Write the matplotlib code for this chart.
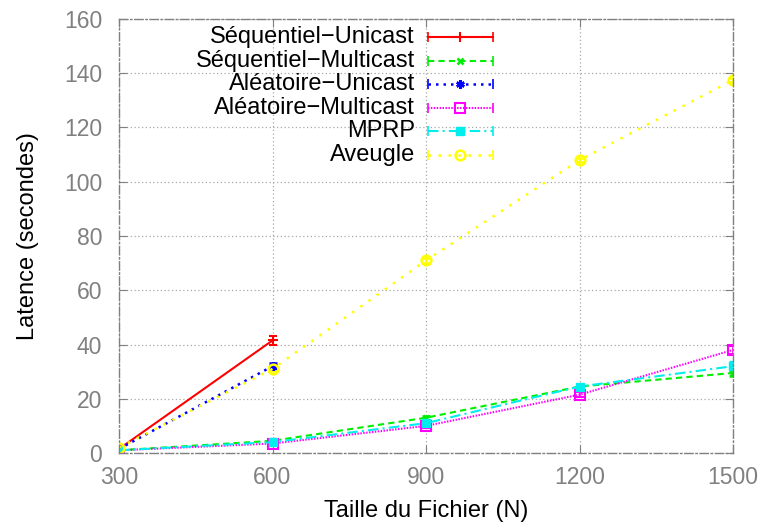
import matplotlib
matplotlib.use("Agg")
import matplotlib.pyplot as plt

plt.rcParams['font.family'] = ['Liberation Sans', 'DejaVu Sans']

# file sizes (N)
sizes = [300, 600, 900, 1200, 1500]

seq_uni = [1.5, 41.5]
seq_uni_err = [0.5, 1.5]
seq_multi = [1.0, 4.5, 13.0, 24.5, 29.5]
seq_multi_err = [0.3, 0.5, 0.8, 0.8, 1.0]
alea_uni = [1.5, 32.0]
alea_uni_err = [0.5, 1.0]
alea_multi = [1.0, 3.5, 10.0, 21.5, 38.0]
alea_multi_err = [0.3, 0.5, 0.8, 1.0, 1.5]
mprp = [1.0, 4.0, 11.0, 24.5, 32.0]
mprp_err = [0.3, 0.5, 0.8, 1.0, 2.0]
aveugle = [2.0, 31.0, 71.0, 108.0, 137.5]
aveugle_err = [0.5, 0.8, 0.8, 0.8, 0.8]

labels = ["Séquentiel\u2212Unicast", "Séquentiel\u2212Multicast", "Aléatoire\u2212Unicast",
          "Aléatoire\u2212Multicast", "MPRP", "Aveugle"]

fig = plt.figure(figsize=(7.58, 5.24), dpi=100)
ax = fig.add_axes([119/758, 1-453/524, 614/758, 434/524])

lw = 1.5
styles = [
    dict(color='#ff0000', ls='-', lw=lw, marker='+', ms=7, mew=1.5),
    dict(color='#00ee00', ls=(0, (3, 2)), lw=lw, marker='x', ms=5, mew=1.8),
    dict(color='#0000ff', ls=(0, (1, 2)), lw=lw + 0.3, marker=(6, 2, 0), ms=6, mew=1.8),
    dict(color='#ff00ff', ls=(0, (0.7, 0.7)), lw=lw, marker='s', mfc='none', ms=7, mew=1.5),
    dict(color='#00eeee', ls=(0, (5, 2, 1, 2)), lw=lw, marker='s', ms=6),
    dict(color='#ffff00', ls=(0, (1, 3)), lw=lw + 0.3, marker='o', mfc='none', ms=7, mew=1.8),
]
series = [(sizes[:2], seq_uni, seq_uni_err), (sizes, seq_multi, seq_multi_err),
          (sizes[:2], alea_uni, alea_uni_err), (sizes, alea_multi, alea_multi_err),
          (sizes, mprp, mprp_err), (sizes, aveugle, aveugle_err)]

for (x, y, e), st in zip(series, styles):
    ax.errorbar(x, y, yerr=e, capsize=3, elinewidth=1.2, **st)

ax.set_xlim(300, 1500)
ax.set_ylim(0, 160)
ax.set_xticks(sizes)
ax.set_yticks(range(0, 161, 20))

ax.grid(True, color='#a8a8a8', ls=(0, (1, 2)), lw=0.9)
for s in ax.spines.values():
    s.set_color('#808080')
    s.set_linestyle((0, (6, 2, 1, 2)))
    s.set_linewidth(1.0)
ax.tick_params(direction='in', length=6, color='#808080', labelcolor='#808080',
               labelsize=16.5, top=True, right=True)
ax.tick_params(axis='x', pad=9)
ax.tick_params(axis='y', pad=12)

ax.set_xlabel("Taille du Fichier (N)", fontsize=17, labelpad=8)
ax.set_ylabel("Latence (secondes)", fontsize=17, labelpad=18)

# gnuplot-style key: labels right-aligned, samples on the right
tx = (415 - 119) / 614
x0, xm, x1 = (428 - 119) / 614, (460 - 119) / 614, (493 - 119) / 614
for i, (lab, st) in enumerate(zip(labels, styles)):
    yk = (453 - (37 + 23.6 * i)) / 434
    ax.text(tx, yk, lab, transform=ax.transAxes, ha='right', va='center', fontsize=17)
    ax.plot([x0, x1], [yk, yk], transform=ax.transAxes, clip_on=False,
            color=st['color'], ls=st['ls'], lw=st['lw'])
    ax.plot([x0, x1], [yk, yk], transform=ax.transAxes, clip_on=False, ls='none',
            marker='|', ms=7, mew=1.2, color=st['color'])
    ax.plot([xm], [yk], transform=ax.transAxes, clip_on=False, ls='none',
            color=st['color'], marker=st['marker'], ms=st['ms'],
            mew=st.get('mew', 1.0), mfc=st.get('mfc', st['color']))

fig.savefig("out.png", dpi=100)
